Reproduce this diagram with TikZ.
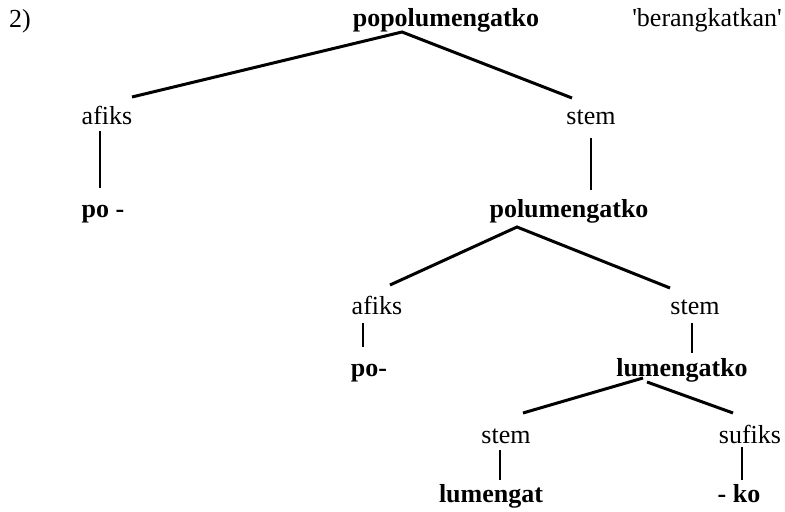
\documentclass[tikz,border=0pt]{standalone}
\usepackage{fontspec}
\setmainfont{Liberation Serif}
\usetikzlibrary{calc}

\begin{document}
\begin{tikzpicture}[x=0.5pt, y=-0.5pt,
    every node/.style={inner sep=0pt, anchor=base, font=\fontsize{13}{15}\selectfont},
    morf/.style={font=\fontsize{13}{15}\selectfont\bfseries},
    branch/.style={line width=1.5pt},
    link/.style={line width=0.9pt}]
        \useasboundingbox (0,0) rectangle (785,512);
        \node (num) at (20,28) {2)};
        \node[morf] (root) at (446,27) {popolumengatko};
        \node (gloss) at (707,27) {\textquotesingle berangkatkan\textquotesingle};
        % level 1
        \node (afiksA) at (107,125) {afiks};
        \node (stemA) at (591,125) {stem};
        \node[morf] (poA) at (103,218) {po -};
        \node[morf] (polA) at (569,218) {polumengatko};
        % level 2
        \node (afiksB) at (377,315) {afiks};
        \node (stemB) at (695,315) {stem};
        \node[morf] (poB) at (369,377) {po-};
        \node[morf] (lumA) at (682,377) {lumengatko};
        % level 3
        \node (stemC) at (506,443) {stem};
        \node (sufC) at (750,443) {sufiks};
        \node[morf] (lumB) at (491,502) {lumengat};
        \node[morf] (koC) at (739,502) {- ko};

          \draw[branch] ($(afiksA.base)+(25,-28)$) -- ($(root.base)+(-44,5)$) -- ($(stemA.base)+(-19,-27)$);
          \draw[link] ($(afiksA.base)+(-7,6)$) -- ($(poA.base)+(-3,-30)$);
          \draw[link] ($(stemA.base)+(0,13)$) -- ($(polA.base)+(22,-28)$);
          \draw[branch] ($(afiksB.base)+(13,-30)$) -- ($(polA.base)+(-52,9)$) -- ($(stemB.base)+(-25,-27)$);
          \draw[link] ($(afiksB.base)+(-14,8)$) -- ($(poB.base)+(-6,-30)$);
          \draw[link] ($(stemB.base)+(-3,8)$) -- ($(lumA.base)+(10,-24)$);
          \draw[branch] ($(stemC.base)+(17,-30)$) -- ($(lumA.base)+(-39,1)$);
          \draw[branch] ($(lumA.base)+(-35,5)$) -- ($(sufC.base)+(-17,-30)$);
          \draw[link] ($(stemC.base)+(-6,7)$) -- ($(lumB.base)+(9,-22)$);
          \draw[link] ($(sufC.base)+(-8,4)$) -- ($(koC.base)+(3,-22)$);
\end{tikzpicture}
\end{document}
